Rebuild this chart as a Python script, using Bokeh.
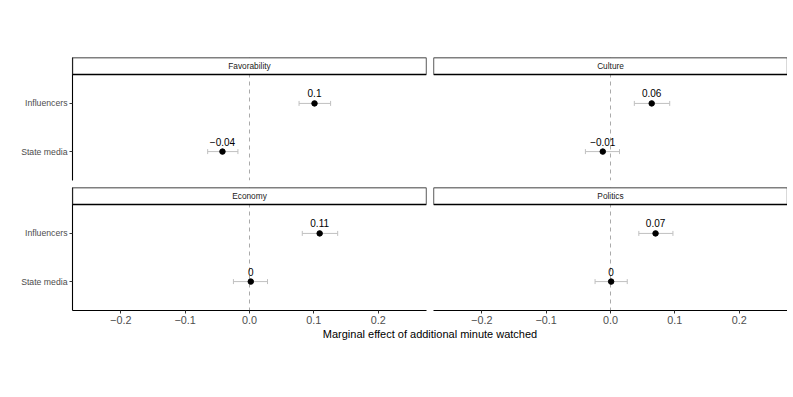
import numpy as np
from bokeh.plotting import figure
from bokeh.layouts import column, row
from bokeh.models import (ColumnDataSource, Range1d, FixedTicker, Span, BoxAnnotation,
                          Label, Whisker, TeeHead)
from bokeh.core.properties import value
from bokeh.embed import file_html
from bokeh.resources import INLINE

# ---- data ----
facets = ["Favorability", "Culture", "Economy", "Politics"]
categories = ["State media", "Influencers"]          # bottom -> top
estimates = {
    "Favorability": [-0.042, 0.101],
    "Culture":      [-0.012, 0.064],
    "Economy":      [0.002, 0.109],
    "Politics":     [0.001, 0.070],
}
lower = {
    "Favorability": [-0.065, 0.077],
    "Culture":      [-0.039, 0.037],
    "Economy":      [-0.025, 0.082],
    "Politics":     [-0.024, 0.044],
}
upper = {
    "Favorability": [-0.018, 0.126],
    "Culture":      [0.014, 0.092],
    "Economy":      [0.028, 0.137],
    "Politics":     [0.026, 0.097],
}
labels = {
    "Favorability": ["\u22120.04", "0.1"],
    "Culture":      ["\u22120.01", "0.06"],
    "Economy":      ["0", "0.11"],
    "Politics":     ["0", "0.07"],
}
x_ticks = [-0.2, -0.1, 0.0, 0.1, 0.2]
x_tick_labels = ["\u22120.2", "\u22120.1", "0.0", "0.1", "0.2"]
x_title = "Marginal effect of additional minute watched"

FONT = "Liberation Sans"
XMIN, XMAX = -0.275, 0.275
YMIN, YMAX_PANEL = 0.4, 2.6
PANEL_H, STRIP_H = 106, 17
YMAX = YMAX_PANEL + (YMAX_PANEL - YMIN) * STRIP_H / PANEL_H
FRAME_W = 354
LEFT_B = 72


def make_panel(name, left, bottom, top_border, bottom_border):
    lb = LEFT_B if left else 4
    rb = 3 if left else 0
    w = FRAME_W + lb + rb
    h = PANEL_H + STRIP_H + top_border + bottom_border
    p = figure(width=w, height=h, output_backend="svg", toolbar_location=None,
               x_range=Range1d(XMIN, XMAX), y_range=Range1d(YMIN, YMAX),
               min_border_left=lb, min_border_right=rb,
               min_border_top=top_border, min_border_bottom=bottom_border)
    p.outline_line_color = None
    p.grid.visible = False
    p.background_fill_color = "white"
    p.border_fill_color = "white"

    # y axis
    yax = p.yaxis[0]
    yax.ticker = FixedTicker(ticks=[1, 2])
    yax.major_label_overrides = {1: categories[0], 2: categories[1]}
    yax.major_label_text_font = FONT
    yax.major_label_text_font_size = "8.7px"
    yax.major_label_text_color = "#4d4d4d"
    yax.axis_line_color = "black"
    yax.axis_line_width = 1.1
    yax.major_tick_line_color = "#333333"
    yax.major_tick_in = 0
    yax.major_tick_out = 3
    yax.minor_tick_line_color = None
    yax.major_label_standoff = 2
    yax.visible = left

    xax = p.xaxis[0]
    xax.ticker = FixedTicker(ticks=x_ticks)
    xax.major_label_overrides = {t: l for t, l in zip(x_ticks, x_tick_labels)}
    xax.major_label_text_font = FONT
    xax.major_label_text_font_size = "10.8px"
    xax.major_label_text_color = "#4d4d4d"
    xax.axis_line_color = "black"
    xax.axis_line_width = 1.1
    xax.major_tick_line_color = "#333333"
    xax.major_tick_in = 0
    xax.major_tick_out = 3
    xax.minor_tick_line_color = None
    xax.major_label_standoff = 2
    xax.visible = bottom

    # zero reference line
    p.add_layout(Span(location=0, dimension="height", line_color="#aaaaaa",
                      line_dash="4 4", line_width=1, level="underlay"))

    yv = [1, 2]
    src = ColumnDataSource(dict(y=yv, est=estimates[name], lo=lower[name],
                                hi=upper[name], lab=labels[name]))
    p.add_layout(Whisker(source=src, base="y", lower="lo", upper="hi", dimension="width",
                         line_color="#c0c0c0", line_width=1,
                         lower_head=TeeHead(size=5, line_color="#c0c0c0", line_width=1),
                         upper_head=TeeHead(size=5, line_color="#c0c0c0", line_width=1),
                         level="underlay"))
    p.scatter("est", "y", source=src, size=5.5, color="black")
    p.text("est", "y", text="lab", source=src, text_align="center",
           text_baseline="middle", y_offset=-10, text_font=value(FONT),
           text_font_size="10px", text_color="black")

    # facet strip
    p.add_layout(BoxAnnotation(bottom=YMAX_PANEL, top=YMAX, left=XMIN, right=XMAX,
                               fill_color="white", fill_alpha=1, line_color="black",
                               line_alpha=1, line_width=1.3, level="overlay"))
    p.add_layout(Label(x=0, y=(YMAX_PANEL + YMAX) / 2, text=name, text_align="center",
                       text_baseline="middle", text_font=FONT, text_font_size="8.3px",
                       text_color="#1a1a1a", level="overlay"))
    return p


p1 = make_panel("Favorability", True, False, 57, 4)
p2 = make_panel("Culture", False, False, 57, 4)
p3 = make_panel("Economy", True, True, 3, 17)
p4 = make_panel("Politics", False, True, 3, 17)

# shared x-axis title
pt = figure(width=p1.width + p2.width, height=24, output_backend="svg", toolbar_location=None,
            x_range=Range1d(0, 1), y_range=Range1d(0, 1), min_border_left=LEFT_B,
            min_border_right=0, min_border_top=0, min_border_bottom=0,
            title=x_title, title_location="above")
pt.axis.visible = False
pt.grid.visible = False
pt.outline_line_color = None
pt.title.align = "center"
pt.title.text_font = FONT
pt.title.text_font_size = "11px"
pt.title.text_font_style = "normal"
pt.title.text_color = "black"
pt.title.standoff = -3
pt.title.offset = 0

layout = column(row(p1, p2), row(p3, p4), pt)

open("out.html", "w").write(file_html(layout, INLINE))
